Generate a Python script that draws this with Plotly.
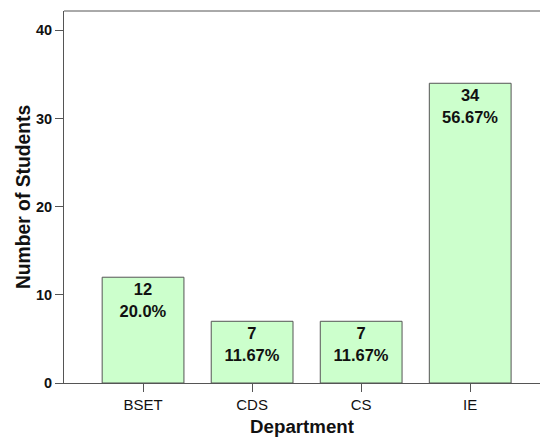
import plotly.graph_objects as go

departments = ["BSET", "CDS", "CS", "IE"]
counts = [12, 7, 7, 34]
percents = ["20.0%", "11.67%", "11.67%", "56.67%"]

labels = [f"<b>{c}<br>{p}</b>" for c, p in zip(counts, percents)]

fig = go.Figure(go.Bar(
    x=list(range(len(departments))),
    y=counts,
    width=0.75,
    marker=dict(color="#ccffcc", line=dict(color="#555555", width=1)),
    text=labels,
    textposition="inside",
    insidetextanchor="end",
    textangle=0,
    textfont=dict(family="Liberation Sans, Arial", size=16.5, color="#111111"),
    constraintext="none",
))

fig.update_layout(
    width=540, height=440,
    margin=dict(l=64, r=0, t=11, b=57),
    paper_bgcolor="white", plot_bgcolor="white",
    showlegend=False,
    font=dict(family="Liberation Sans, Arial", color="#111111"),
)
fig.update_xaxes(
    range=[-0.725, 3.64],
    tickmode="array",
    tickvals=list(range(len(departments))),
    ticktext=departments,
    ticks="outside", ticklen=8, tickcolor="#555555",
    tickfont=dict(size=15, color="#111111"),
    showline=True, linecolor="#555555", linewidth=1,
    mirror=False, showgrid=False, zeroline=False,
    title=dict(text="<b>Department</b>", font=dict(size=18.7), standoff=7),
)
fig.update_yaxes(
    range=[0, 42.2],
    tickvals=[0, 10, 20, 30, 40],
    ticktext=["<b>0</b>", "<b>10</b>", "<b>20</b>", "<b>30</b>", "<b>40</b>"],
    ticks="outside", ticklen=8, tickcolor="#555555",
    tickfont=dict(size=14.5, color="#111111"),
    showline=True, linecolor="#555555", linewidth=1,
    showgrid=False, zeroline=False,
    title=dict(text="<b>Number of Students</b>", font=dict(size=19.3), standoff=0),
)
fig.add_shape(type="line", xref="paper", yref="paper", x0=0, x1=1, y0=1, y1=1,
              line=dict(color="#555555", width=1))

fig.write_html("out.html")
